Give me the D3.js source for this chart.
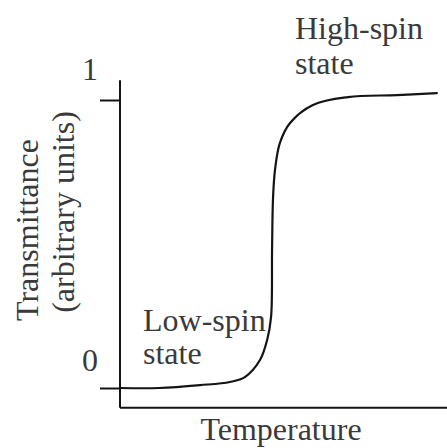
<!DOCTYPE html>
<html>
<head>
<meta charset="utf-8">
<script src="https://cdn.jsdelivr.net/npm/d3@7"></script>
<style>
  html, body { margin: 0; padding: 0; background: #fff; }
  svg { display: block; }
  text { font-family: "Liberation Serif", "Times New Roman", serif; fill: #3a3a3a; }
</style>
</head>
<body>
<svg id="chart" width="447" height="448"></svg>
<script>
// ---- data ----
const temperature = [0, 12, 24.5, 33.6, 38.2, 42.8, 45.0, 46.2, 46.5, 46.8, 47.4, 48.9, 52.0, 59.0, 69.7, 84.7, 96.9];
const transmittance = [0, 0, 0.010, 0.021, 0.038, 0.097, 0.167, 0.247, 0.479, 0.660, 0.757, 0.851, 0.920, 0.983, 1.010, 1.017, 1.024];
const yTickValues = [0, 1];
const yTickLabels = ["0", "1"];
const xTitle = "Temperature";
const yTitleLines = ["Transmittance", "(arbitrary units)"];
const stateLabels = [
  { lines: ["High-spin", "state"] },
  { lines: ["Low-spin", "state"] }
];

// ---- layout ----
const svg = d3.select("#chart");
const x = d3.scaleLinear().domain([0, 100]).range([120, 447]);
const y = d3.scaleLinear().domain([0, 1]).range([388, 100]);
const xMin = 0, xMax = 100, yAxisTop = 1.069, yAxisBottom = -0.069;
const ink = "#141414";

// axes lines
svg.append("line")
  .attr("x1", x(xMin)).attr("x2", x(xMin))
  .attr("y1", y(yAxisTop)).attr("y2", y(yAxisBottom))
  .attr("stroke", ink).attr("stroke-width", 2);
svg.append("line")
  .attr("x1", x(xMin)).attr("x2", x(xMax))
  .attr("y1", y(yAxisBottom)).attr("y2", y(yAxisBottom))
  .attr("stroke", ink).attr("stroke-width", 2);

// y axis ticks via d3.axisLeft
const yAxis = d3.axisLeft(y)
  .tickValues(yTickValues)
  .tickFormat((d, i) => yTickLabels[i])
  .tickSize(20)
  .tickSizeOuter(0);
const gy = svg.append("g").attr("transform", `translate(${x(xMin)},0)`).call(yAxis);
gy.select(".domain").remove();
gy.selectAll(".tick line").attr("stroke", ink).attr("stroke-width", 2);
gy.selectAll(".tick text")
  .attr("x", -30)
  .attr("y", (d) => d === 1 ? -32 : -29)
  .attr("dy", "0.35em")
  .attr("text-anchor", "middle")
  .attr("font-size", 32)
  .attr("font-family", "Liberation Serif, Times New Roman, serif")
  .attr("fill", "#3a3a3a");

// curve
const pts = temperature.map((t, i) => [t, transmittance[i]]);
const line = d3.line()
  .x(d => x(d[0]))
  .y(d => y(d[1]))
  .curve(d3.curveCatmullRom.alpha(0.5));
svg.append("path")
  .datum(pts)
  .attr("d", line)
  .attr("fill", "none")
  .attr("stroke", ink)
  .attr("stroke-width", 2.2)
  .attr("stroke-linecap", "round");

// x title
svg.append("text")
  .attr("x", 281).attr("y", 440)
  .attr("text-anchor", "middle")
  .attr("font-size", 32)
  .text(xTitle);

// y title (rotated)
const yTitlePos = [{ bx: 38, cy: 230 }, { bx: 74, cy: 212 }];
yTitleLines.forEach((s, i) => {
  svg.append("text")
    .attr("transform", `translate(${yTitlePos[i].bx},${yTitlePos[i].cy}) rotate(-90)`)
    .attr("text-anchor", "middle")
    .attr("font-size", 32)
    .text(s);
});

// state annotations
const annPos = [{ x: 295, y: 39, lh: 35 }, { x: 143, y: 331, lh: 33 }];
stateLabels.forEach((a, i) => {
  a.lines.forEach((s, j) => {
    svg.append("text")
      .attr("x", annPos[i].x)
      .attr("y", annPos[i].y + j * annPos[i].lh)
      .attr("font-size", 32)
      .text(s);
  });
});
</script>
</body>
</html>
